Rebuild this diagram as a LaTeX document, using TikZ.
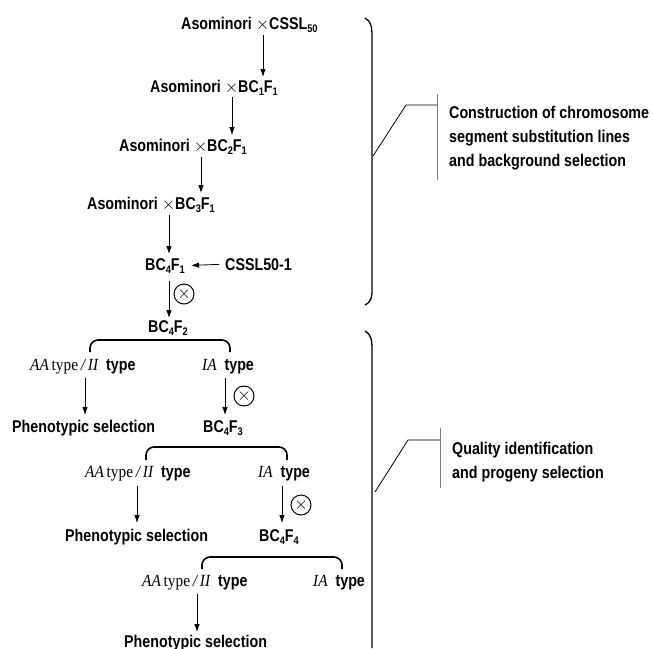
\documentclass[tikz,border=0pt]{standalone}
\usepackage{fontspec}
\setmainfont{Liberation Sans}[FakeStretch=0.84]
\newfontfamily\tms{Liberation Serif}[FakeStretch=0.9]
\usetikzlibrary{arrows.meta}
\tikzset{
  lbl/.style={anchor=base west,inner sep=0pt,font=\fontsize{17}{20}\selectfont\bfseries},
  arr/.style={line width=0.8pt,-{Latex[length=8pt,width=5.5pt]}},
  brk/.style={line width=1.6pt,rounded corners=8pt},
  brc/.style={line width=1.3pt},
  selfx/.style={circle,draw,line width=1pt,minimum size=20pt,inner sep=0pt,font=\LARGE}
}
\newcommand{\lo}[1]{\raisebox{-0.35ex}{\fontsize{11}{11}\selectfont #1}}
\newcommand{\aaii}{{\tms\mdseries\itshape AA}\,{\tms\mdseries type}\,{\tms\mdseries\itshape/}\,{\tms\mdseries\itshape II}\ \ type}
\newcommand{\iat}{{\tms\mdseries\itshape IA}\ \ type}
\begin{document}
\begin{tikzpicture}[x=1pt,y=-1pt]
\useasboundingbox (0,0) rectangle (653,648);

\node[lbl] (a0) at (181,29) {Asominori $\times$CSSL\lo{50}};
\node[lbl] (a1) at (150,92) {Asominori $\times$BC\lo{1}F\lo{1}};
\node[lbl] (a2) at (119,151) {Asominori $\times$BC\lo{2}F\lo{1}};
\node[lbl] (a3) at (87,209) {Asominori $\times$BC\lo{3}F\lo{1}};
\node[lbl] (b41) at (145,270) {BC\lo{4}F\lo{1}};
\node[lbl] (c1) at (225,270) {CSSL50-1};
\node[lbl] (b42) at (148,332) {BC\lo{4}F\lo{2}};

\node[lbl] (t1) at (30,370) {\aaii};
\node[lbl] (i1) at (202,370) {\iat};
\node[lbl] (p1) at (12,432) {Phenotypic selection};
\node[lbl] (b43) at (203,432) {BC\lo{4}F\lo{3}};

\node[lbl] (t2) at (85,477) {\aaii};
\node[lbl] (i2) at (258,477) {\iat};
\node[lbl] (p2) at (65,541) {Phenotypic selection};
\node[lbl] (b44) at (259,541) {BC\lo{4}F\lo{4}};

\node[lbl] (t3) at (142,586) {\aaii};
\node[lbl] (i3) at (313,586) {\iat};
\node[lbl] (p3) at (124,647) {Phenotypic selection};

\node[selfx] (x1) at (184,294) {$\times$};
\node[selfx] (x2) at (244,396) {$\times$};
\node[selfx] (x3) at (301,505) {$\times$};

\coordinate (u1) at (263,35);
\coordinate (w1) at (263,77);
\coordinate (u2) at (232,97);
\coordinate (w2) at (232,135);
\coordinate (u3) at (201,157);
\coordinate (w3) at (201,193);
\coordinate (u4) at (169,215);
\coordinate (w4) at (169,254);
\coordinate (u5) at (169,281);
\coordinate (w5) at (169,318);
\coordinate (u6) at (85,378);
\coordinate (w6) at (85,415);
\coordinate (u7) at (225,378);
\coordinate (w7) at (225,415);
\coordinate (u8) at (137,486);
\coordinate (w8) at (137,523);
\coordinate (u9) at (282,486);
\coordinate (w9) at (282,523);
\coordinate (u10) at (197,594);
\coordinate (w10) at (197,632);
\draw[arr] (u1) -- (w1);
\draw[arr] (u2) -- (w2);
\draw[arr] (u3) -- (w3);
\draw[arr] (u4) -- (w4);
\draw[arr] (u5) -- (w5);
\draw[arr] (u6) -- (w6);
\draw[arr] (u7) -- (w7);
\draw[arr] (u8) -- (w8);
\draw[arr] (u9) -- (w9);
\draw[arr] (u10) -- (w10);
\draw[arr,shorten <=6pt,shorten >=6pt] (c1.west) -- (b41.east);

\draw[brk] (90,352) -- (90,340) -- (230,340) -- (230,352);
\draw[brk] (146,460) -- (146,447) -- (287,447) -- (287,460);
\draw[brk] (202,569) -- (202,557) -- (342,557) -- (342,569);

\draw[brc] (365,18) .. controls (371,21) and (372,27) .. (372,36) -- (372,290) .. controls (372,298) and (371,302) .. (365,305);
\draw[brc] (365,331) .. controls (371,334) and (372,340) .. (372,349) -- (372,648);

\draw[line width=0.8pt] (373,156) -- (406,105) -- (437,105);
\draw[gray,line width=0.8pt] (437,94) -- (437,180);
\node[lbl] (r1) at (449,118) {Construction of chromosome};
\node[lbl] (r2) at (449,142) {segment substitution lines};
\node[lbl] (r3) at (449,166) {and background selection};

\draw[line width=0.8pt] (375,492) -- (408,440) -- (440,440);
\draw[gray,line width=0.8pt] (440,428) -- (440,488);
\node[lbl] (q1) at (452,454) {Quality identification};
\node[lbl] (q2) at (452,478) {and progeny selection};
\end{tikzpicture}
\end{document}
